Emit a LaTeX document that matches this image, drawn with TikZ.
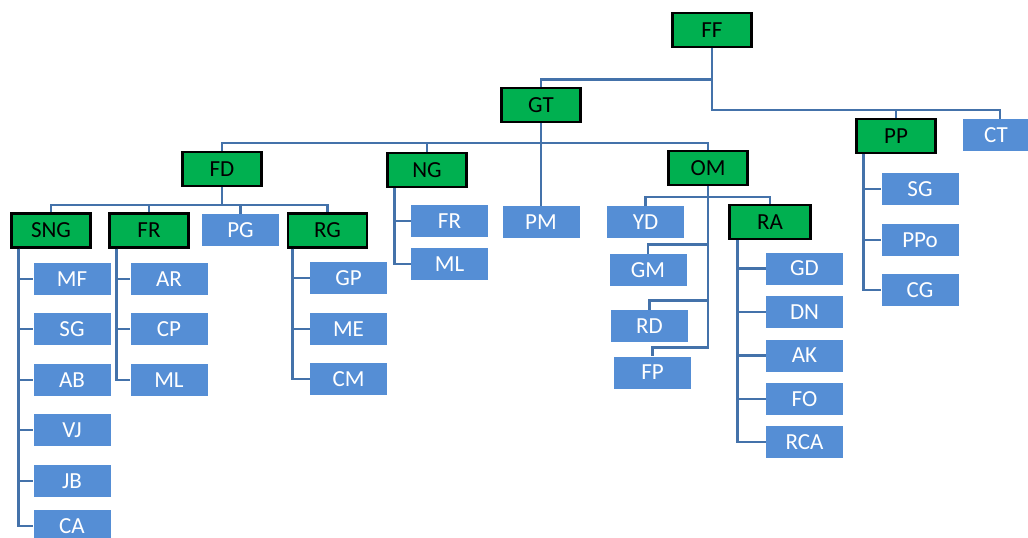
\documentclass[tikz,border=0pt]{standalone}
\usepackage{fontspec}
\setmainfont{Carlito}
\usetikzlibrary{positioning}
\definecolor{leafblue}{RGB}{85,142,213}
\definecolor{headgreen}{RGB}{0,176,80}
\definecolor{linkblue}{RGB}{68,114,170}
\tikzset{
	head/.style={draw=black, line width=2.4pt, fill=headgreen, inner sep=0pt, minimum width=79pt, minimum height=34pt, font=\fontsize{23}{23}\selectfont},
	leaf/.style={draw=none, fill=leafblue, text=white, inner sep=0pt, minimum width=77pt, minimum height=32pt, font=\fontsize{23}{23}\selectfont},
	link/.style={draw=linkblue, line width=2.7pt},
}

\begin{document}
\begin{tikzpicture}[x=1pt, y=-1pt]
		\useasboundingbox (0,0) rectangle (1028,538);
		% top levels
		\node (ff) [head] at (712,30) {FF};
		\node (gt) [head] at (541,105) {GT};
		\node (pp) [head] at (896,136) {PP};
		\node (ct) [leaf, minimum width=66pt] at (996,135) {CT};
		
		\node (fd) [head] at (222,169) {FD};
		\node (ng) [head] at (427,170) {NG};
		\node (pm) [leaf] at (541,222) {PM};
		\node (om) [head] at (708,168) {OM};
		
		\node (sng) [head] at (51,230.5) {SNG};
		\node (fr) [head] at (149,230.5) {FR};
		\node (pg) [leaf] at (240.5,230) {PG};
		\node (rg) [head] at (327.5,230.5) {RG};
		
		% SNG group
		\node (mf) [leaf] at (72,279) {MF};
		\node (sg) [leaf] at (72,329) {SG};
		\node (ab) [leaf] at (72,380) {AB};
		\node (vj) [leaf] at (72,430) {VJ};
		\node (jb) [leaf] at (72,481) {JB};
		\node (ca) [leaf] at (72,526) {CA};
		
		% FR group
		\node (ar) [leaf] at (169,279) {AR};
		\node (cp) [leaf] at (169,329) {CP};
		\node (ml) [leaf] at (169,380) {ML};
		
		% RG group
		\node (gp) [leaf] at (348.5,278) {GP};
		\node (me) [leaf] at (348.5,329) {ME};
		\node (cm) [leaf] at (348.5,379) {CM};
		
		% NG group
		\node (fr2) [leaf] at (449.5,221) {FR};
		\node (ml2) [leaf] at (449.5,264) {ML};
		
		% OM group
		\node (yd) [leaf] at (645.5,222) {YD};
		\node (ra) [head, minimum width=81pt] at (770,222) {RA};
		\node (gm) [leaf] at (648,270) {GM};
		\node (rd) [leaf] at (649.5,326) {RD};
		\node (fp) [leaf] at (652.5,372.5) {FP};
		
		\node (gd) [leaf] at (804.5,268.5) {GD};
		\node (dn) [leaf] at (804.5,312) {DN};
		\node (ak) [leaf] at (804.5,355.5) {AK};
		\node (fo) [leaf] at (804.5,399) {FO};
		\node (rca) [leaf] at (804.5,442) {RCA};
		
		% PP group
		\node (sg2) [leaf] at (920,189) {SG};
		\node (ppo) [leaf] at (920,240) {PPo};
		\node (cg) [leaf] at (920,290) {CG};
		
		\coordinate (ffbus) at (712,110);
		\coordinate (gtbus) at (541,143);
		\coordinate (fdbus) at (222,205);
		\coordinate (ombus) at (708,197);
		
		\begin{scope}[link]
			\draw (ff.south) |- ([yshift=7pt]gt.north) -- (gt.north);
			\draw (ff.south) |- (pp.north |- ffbus) -- (pp.north);
			\draw (ff.south) |- ([xshift=4pt]ct.north |- ffbus) -- ([xshift=4pt]ct.north);
			
			\draw (gt.south) |- (fd.north |- gtbus) -- (fd.north);
			\draw (gt.south) |- (ng.north |- gtbus) -- (ng.north);
			\draw (gt.south) |- (om.north |- gtbus) -- (om.north);
			\draw (gt.south) -- (pm.north);
			
			\draw (fd.south) |- (sng.north |- fdbus) -- (sng.north);
			\draw (fd.south) |- (fr.north |- fdbus) -- (fr.north);
			\draw (fd.south) |- (pg.north |- fdbus) -- (pg.north);
			\draw (fd.south) |- (rg.north |- fdbus) -- (rg.north);
			
			\foreach \kid in {mf, sg, ab, vj, jb, ca}
				\draw ([xshift=8pt]sng.south west) |- (\kid.west);
			\foreach \kid in {ar, cp, ml}
				\draw ([xshift=8pt]fr.south west) |- (\kid.west);
			\foreach \kid in {gp, me, cm}
				\draw ([xshift=6pt]rg.south west) |- (\kid.west);
			\foreach \kid in {fr2, ml2}
				\draw ([xshift=8pt]ng.south west) |- (\kid.west);
			\foreach \kid in {gd, dn, ak, fo, rca}
				\draw ([xshift=9pt]ra.south west) |- (\kid.west);
			\foreach \kid in {sg2, ppo, cg}
				\draw ([xshift=8pt]pp.south west) |- (\kid.west);
			
			\draw (om.south) |- (yd.north |- ombus) -- (yd.north);
			\draw (om.south) |- (ra.north |- ombus) -- (ra.north);
			\foreach \kid in {gm, rd, fp}
				\draw (om.south) |- ([yshift=9pt]\kid.north) -- (\kid.north);
		\end{scope}
	\end{tikzpicture}
\end{document}
